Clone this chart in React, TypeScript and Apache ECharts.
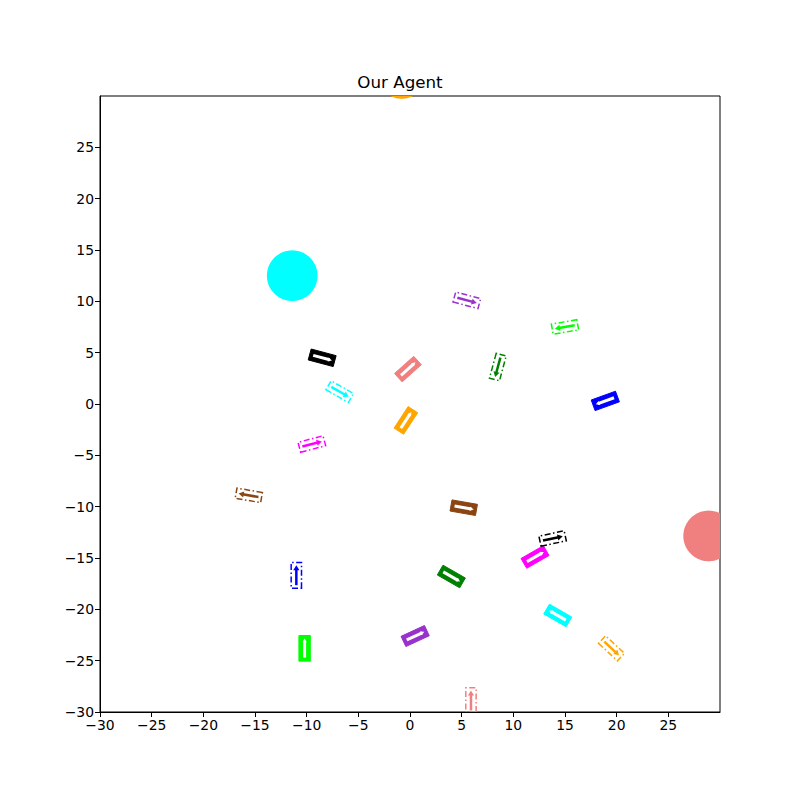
import React, { useEffect, useRef } from "react";
import * as echarts from "echarts";

// Axis ticks
const tickValues = [-30, -25, -20, -15, -10, -5, 0, 5, 10, 15, 20, 25];

// Agents (solid vehicles): position and heading (degrees)
const vehX = [-8.5, -0.2, -0.4, 18.9, 5.2, 12.1, 4.0, 0.5, -10.2, 14.3];
const vehY = [4.5, 3.4, -1.6, 0.3, -10.1, -14.9, -16.8, -22.6, -23.8, -20.6];
const vehHeading = [-15, 42, 57, 200, -10, 30, -30, 25, 90, 150];
const vehColor = ["black", "lightcoral", "orange", "blue", "saddlebrown", "magenta", "green", "darkorchid", "lime", "cyan"];

// Targets (dash-dot outlines): position and heading (degrees)
const tgtX = [5.5, 15.0, 8.5, -6.8, -9.5, -15.6, 13.8, -11.0, 19.5, 5.9];
const tgtY = [10.1, 7.5, 3.6, 1.2, -3.9, -8.9, -13.1, -16.7, -23.8, -28.9];
const tgtHeading = [-15, 190, 255, -30, 15, 170, 12, 90, -43, 90];
const tgtColor = ["darkorchid", "lime", "green", "cyan", "magenta", "saddlebrown", "black", "blue", "orange", "lightcoral"];

// Obstacles (circles)
const obsX = [-11.4, 28.9, -0.8];
const obsY = [12.5, -12.85, 32.2];
const obsR = [2.45, 2.45, 2.45];
const obsColor = ["cyan", "lightcoral", "orange"];

const FONT = "DejaVu Sans";
const fmt = (v: number) => (tickValues.indexOf(v) < 0 ? "" : String(v).replace("-", "\u2212"));

function rotPts(x: number, y: number, h: number, pts: number[][], api: any) {
  const r = (h * Math.PI) / 180;
  const c = Math.cos(r), s = Math.sin(r);
  return pts.map(([u, v]) => api.coord([x + u * c - v * s, y + u * s + v * c]));
}

function clampToRect(pts: number[][], cs: any) {
  return pts.map(([px, py]) => [
    Math.min(Math.max(px, cs.x), cs.x + cs.width),
    Math.min(Math.max(py, cs.y), cs.y + cs.height),
  ]);
}

export default function App() {
  const ref = useRef<HTMLDivElement>(null);
  useEffect(() => {
    if (!ref.current) return;
    const chart = echarts.init(ref.current, null, { renderer: "svg" });
    const L = 1.25, W = 0.55;
    const axisCommon = {
      type: "value", min: -30, max: 30, interval: 5,
      splitLine: { show: false },
      axisLine: { show: true, onZero: false, lineStyle: { color: "#000", width: 1 } },
      axisTick: { show: true, length: 5, customValues: tickValues, lineStyle: { color: "#000" } },
      axisLabel: { formatter: fmt, customValues: tickValues, fontFamily: FONT, fontSize: 13.9, color: "#000", margin: 6 },
    };
    const option: any = {
      animation: false,
      backgroundColor: "#fff",
      title: {
        text: "Our Agent",
        left: "center",
        top: 68,
        textStyle: { fontFamily: FONT, fontSize: 16.7, fontWeight: "normal", color: "#000" },
      },
      grid: { left: 100, right: 80, top: 96, bottom: 88, show: true, borderColor: "#000", borderWidth: 1, backgroundColor: "transparent" },
      xAxis: axisCommon,
      yAxis: axisCommon,
      series: [
        {
          type: "custom",
          clip: true,
          data: obsX.map((x, i) => [x, obsY[i], obsR[i]]),
          renderItem: (params: any, api: any) => {
            const c = api.coord([api.value(0), api.value(1)]);
            const r = api.size([api.value(2), 0])[0];
            const pts: number[][] = [];
            for (let k = 0; k < 120; k++) {
              const a = (k / 120) * Math.PI * 2;
              pts.push([c[0] + r * Math.cos(a), c[1] + r * Math.sin(a)]);
            }
            return {
              type: "polygon",
              shape: { points: clampToRect(pts, params.coordSys) },
              style: { fill: obsColor[params.dataIndex] },
            };
          },
        },
        {
          type: "custom",
          clip: true,
          data: vehX.map((x, i) => [x, vehY[i], vehHeading[i]]),
          renderItem: (params: any, api: any) => {
            const x = api.value(0), y = api.value(1), h = api.value(2);
            const col = vehColor[params.dataIndex];
            const body = rotPts(x, y, h, [[-L, -W], [L, -W], [L, W], [-L, W]], api);
            const shaft = rotPts(x, y, h, [[-0.9, 0], [0.75, 0]], api);
            const head = rotPts(x, y, h, [[0.6, -0.2], [0.98, 0], [0.6, 0.2]], api);
            return {
              type: "group",
              children: [
                { type: "polygon", shape: { points: body }, style: { fill: col, stroke: col, lineWidth: 1 } },
                { type: "polyline", shape: { points: shaft }, style: { stroke: "#fff", lineWidth: 3, fill: null } },
                { type: "polygon", shape: { points: head }, style: { fill: "#fff" } },
              ],
            };
          },
        },
        {
          type: "custom",
          clip: true,
          data: tgtX.map((x, i) => [x, tgtY[i], tgtHeading[i]]),
          renderItem: (params: any, api: any) => {
            const x = api.value(0), y = api.value(1), h = api.value(2);
            const col = tgtColor[params.dataIndex];
            const body = clampToRect(rotPts(x, y, h, [[-L, -0.5], [L, -0.5], [L, 0.5], [-L, 0.5]], api), params.coordSys);
            const shaft = clampToRect(rotPts(x, y, h, [[-0.95, 0], [0.6, 0]], api), params.coordSys);
            const head = rotPts(x, y, h, [[0.5, -0.3], [1.0, 0], [0.5, 0.3]], api);
            return {
              type: "group",
              children: [
                { type: "polygon", shape: { points: body }, style: { fill: null, stroke: col, lineWidth: 1.5, lineDash: [6, 2.5, 1.5, 2.5] } },
                { type: "polyline", shape: { points: shaft }, style: { stroke: col, lineWidth: 2.5, fill: null } },
                { type: "polygon", shape: { points: head }, style: { fill: col } },
              ],
            };
          },
        },
      ],
    };
    chart.setOption(option);
    return () => chart.dispose();
  }, []);
  return <div ref={ref} style={{ position: "fixed", left: 0, top: 0, width: 800, height: 800 }} />;
}
